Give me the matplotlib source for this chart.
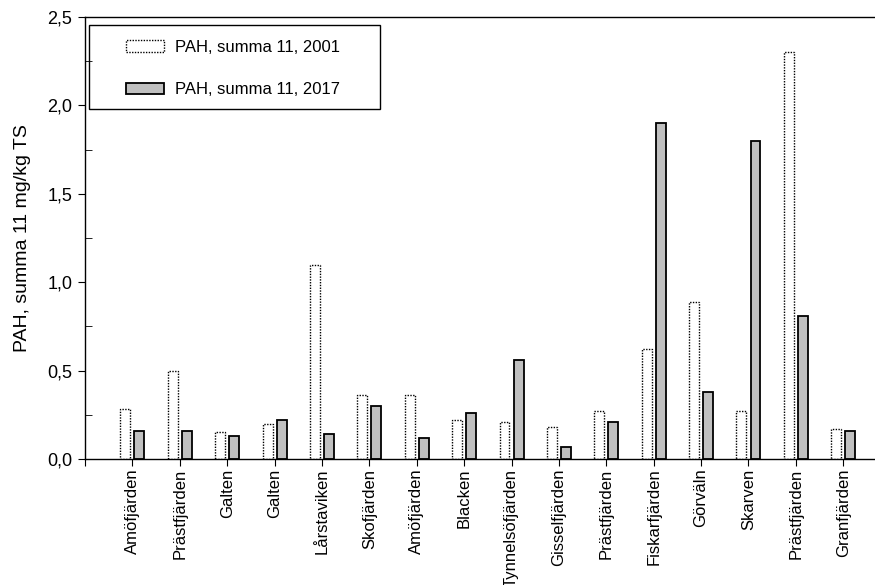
import matplotlib
matplotlib.use("Agg")
import matplotlib.pyplot as plt
import numpy as np
from matplotlib.patches import Rectangle
from matplotlib.ticker import FuncFormatter, MultipleLocator

plt.rcParams["font.family"] = ["Liberation Sans", "DejaVu Sans"]

sites = ["Amöfjärden", "Prästfjärden", "Galten", "Galten", "Lårstaviken", "Skofjärden",
         "Amöfjärden", "Blacken", "Tynnelsöfjärden", "Gisselfjärden", "Prästfjärden",
         "Fiskarfjärden", "Görväln", "Skarven", "Prästfjärden", "Granfjärden"]
pah_2001 = [0.28, 0.50, 0.15, 0.20, 1.10, 0.36, 0.36, 0.22, 0.21, 0.18, 0.27, 0.62, 0.89, 0.27, 2.30, 0.17]
pah_2017 = [0.16, 0.16, 0.13, 0.22, 0.14, 0.30, 0.12, 0.26, 0.56, 0.07, 0.21, 1.90, 0.38, 1.80, 0.81, 0.16]

fig = plt.figure(figsize=(8.75, 5.85), dpi=100)
ax = fig.add_axes([85 / 875, 126 / 585, 790 / 875, 442 / 585])

x = np.arange(len(sites))
w = 0.21
off = 0.148
ax.bar(x - off, pah_2001, w, facecolor="white", edgecolor="black", linewidth=1.0,
       linestyle=(0, (1, 1)), label="PAH, summa 11, 2001")
ax.bar(x + off, pah_2017, w, facecolor="#c0c0c0", edgecolor="black", linewidth=1.3,
       label="PAH, summa 11, 2017")

ax.set_xlim(-1, 15.67)
ax.set_ylim(0, 2.5)
ax.set_xticks(np.arange(-1, len(sites)))
ax.set_xticklabels([""] + sites, rotation=90, fontsize=12)
ax.yaxis.set_major_locator(MultipleLocator(0.5))
ax.yaxis.set_minor_locator(MultipleLocator(0.25))
ax.yaxis.set_major_formatter(FuncFormatter(lambda v, p: f"{v:.1f}".replace(".", ",")))
ax.tick_params(axis="y", which="major", direction="out", length=5, labelsize=13, pad=4)
ax.tick_params(axis="y", which="minor", direction="in", length=5)
ax.tick_params(axis="x", direction="out", length=5, pad=2)
ax.spines["right"].set_visible(False)
for s in ["left", "bottom", "top"]:
    ax.spines[s].set_linewidth(1.0)
ax.set_ylabel("PAH, summa 11 mg/kg TS", fontsize=14, labelpad=12)

ax.legend(loc="upper left", bbox_to_anchor=(0.052, 0.948), frameon=False, fontsize=12,
          handlelength=2.3, handleheight=0.7, labelspacing=1.65, handletextpad=0.65,
          borderaxespad=0, borderpad=0)
ax.add_patch(Rectangle((0.005, 0.792), 0.368, 0.19, transform=ax.transAxes, fill=False,
                       edgecolor="black", linewidth=1.0, zorder=5))

fig.savefig("out.png", dpi=100)
